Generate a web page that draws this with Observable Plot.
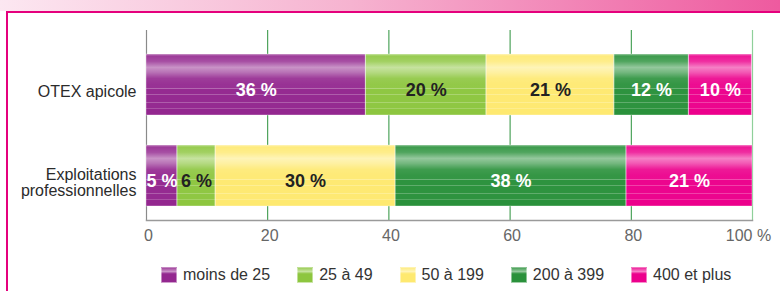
<!DOCTYPE html>
<html><head><meta charset="utf-8">
<script src="https://cdn.jsdelivr.net/npm/d3@7"></script>
<script src="https://cdn.jsdelivr.net/npm/@observablehq/plot@0.6"></script>
<style>
body{margin:0;width:780px;height:291px;overflow:hidden;background:#fff;font-family:"Liberation Sans",Arial,sans-serif;position:relative}
#band{position:absolute;left:0;top:0;width:780px;height:11px;background:linear-gradient(to right,#fce7f1,#f6b3d0 45%,#ee5a9f)}
#frame{position:absolute;left:6px;top:11px;right:0;bottom:0;border-top:2px solid #e5007d;border-left:2px solid #e5007d}
#chart{position:absolute;left:0;top:0}
#legend{position:absolute;left:161px;top:267px;display:flex;gap:27px;font-size:16px;color:#333;line-height:16px}
.item{display:flex;align-items:center;gap:6px}
.sw{width:16px;height:16px;box-sizing:border-box}
</style></head>
<body>
<div id="band"></div>
<div id="frame"></div>
<div id="chart"></div>
<div id="legend"></div>
<script>
const rows = ["OTEX apicole", "Exploitations professionnelles"];
const rowLabels = ["OTEX apicole", "Exploitations\nprofessionnelles"];
const categories = ["moins de 25", "25 à 49", "50 à 199", "200 à 399", "400 et plus"];
const colors = ["#93278f", "#8dc63f", "#fee970", "#2a913b", "#ec008c"];
const otexValues = [36.2, 19.9, 21.1, 12.3, 10.4];
const proValues = [5.1, 6.3, 29.7, 38.1, 20.8];
const otexLabels = ["36 %", "20 %", "21 %", "12 %", "10 %"];
const proLabels = ["5 %", "6 %", "30 %", "38 %", "21 %"];
const xTicks = [0, 20, 40, 60, 80, 100];
const xTickLabels = ["0", "20", "40", "60", "80", "100 %"];
const whiteTextCats = ["moins de 25", "200 à 399", "400 et plus"];

const seriesValues = [otexValues, proValues];
const seriesLabels = [otexLabels, proLabels];
const data = [];
rows.forEach((r, i) => {
  let cum = 0;
  categories.forEach((c, j) => {
    const v = seriesValues[i][j];
    data.push({row: r, cat: c, value: v, label: seriesLabels[i][j], x1: cum, x2: cum + v});
    cum += v;
  });
});

const fmtX = d => xTickLabels[xTicks.indexOf(d)];

const plot = Plot.plot({
  width: 780,
  height: 250,
  marginLeft: 146,
  marginRight: 28,
  marginTop: 30,
  marginBottom: 30,
  style: {background: "transparent", fontFamily: "'Liberation Sans', Arial, sans-serif", fontSize: "16px", color: "#2b2b2b"},
  x: {domain: [0, 100], axis: null, label: null},
  y: {domain: rows, paddingInner: 0.326, paddingOuter: 0.196, align: 0.64, axis: null, label: null},
  color: {domain: categories, range: colors},
  marks: [
    Plot.ruleX([0], {stroke: "#8a8a8a", strokeWidth: 1.2}),
    Plot.ruleX(xTicks.slice(1, -1), {stroke: "#2a913b", strokeWidth: 1}),
    Plot.ruleX([100], {stroke: "#8fd09a", strokeWidth: 1.2}),
    Plot.frame({anchor: "bottom", stroke: "#9a9a9a", strokeWidth: 1.5}),
    Plot.barX(data, {x1: "x1", x2: "x2", y: "row", fill: "cat"}),
    Plot.barX(data, {x1: "x1", x2: "x2", y: "row", fill: "url(#gloss)", stroke: "white", strokeOpacity: 0.35}),
    Plot.text(data.filter(d => whiteTextCats.includes(d.cat)), {x: d => (d.x1 + d.x2) / 2, y: "row", text: "label", fill: "white", fontSize: 18, fontWeight: "bold", dy: 5}),
    Plot.text(data.filter(d => !whiteTextCats.includes(d.cat)), {x: d => (d.x1 + d.x2) / 2, y: "row", text: "label", fill: "#222", fontSize: 18, fontWeight: "bold", dy: 5}),
    Plot.axisX(xTicks.slice(0, -1), {tickSize: 0, tickPadding: 9, tickFormat: fmtX, fill: "#666", fontSize: 16, dx: 2, label: null}),
    Plot.axisX(xTicks.slice(-1), {tickSize: 0, tickPadding: 9, tickFormat: fmtX, fill: "#666", fontSize: 16, dx: -4, label: null}),
    Plot.axisY({tickSize: 0, tickPadding: 10, tickFormat: d => rowLabels[rows.indexOf(d)], fill: "#2b2b2b", fontSize: 16, dy: 7, lineHeight: 1.0, label: null})
  ]
});

const defs = `<linearGradient id="gloss" x1="0" y1="0" x2="0" y2="1">
<stop offset="0" stop-color="#fff" stop-opacity="0.35"/>
<stop offset="0.04" stop-color="#fff" stop-opacity="0.1"/>
<stop offset="0.12" stop-color="#fff" stop-opacity="0.18"/>
<stop offset="0.22" stop-color="#fff" stop-opacity="0.5"/>
<stop offset="0.30" stop-color="#fff" stop-opacity="0.35"/>
<stop offset="0.40" stop-color="#fff" stop-opacity="0.1"/>
<stop offset="0.50" stop-color="#fff" stop-opacity="0.05"/>
<stop offset="0.55" stop-color="#fff" stop-opacity="0.05"/>
<stop offset="0.55" stop-color="#fff" stop-opacity="0.3"/>
<stop offset="0.57" stop-color="#fff" stop-opacity="0.3"/>
<stop offset="0.57" stop-color="#fff" stop-opacity="0.02"/>
<stop offset="0.66" stop-color="#fff" stop-opacity="0.02"/>
<stop offset="0.66" stop-color="#fff" stop-opacity="0.25"/>
<stop offset="0.68" stop-color="#fff" stop-opacity="0.25"/>
<stop offset="0.68" stop-color="#fff" stop-opacity="0.02"/>
<stop offset="0.78" stop-color="#fff" stop-opacity="0.02"/>
<stop offset="0.78" stop-color="#fff" stop-opacity="0.25"/>
<stop offset="0.80" stop-color="#fff" stop-opacity="0.25"/>
<stop offset="0.80" stop-color="#fff" stop-opacity="0.02"/>
<stop offset="0.88" stop-color="#fff" stop-opacity="0.02"/>
<stop offset="0.88" stop-color="#fff" stop-opacity="0.2"/>
<stop offset="0.90" stop-color="#fff" stop-opacity="0.2"/>
<stop offset="0.90" stop-color="#fff" stop-opacity="0"/>
<stop offset="1" stop-color="#fff" stop-opacity="0"/>
</linearGradient>`;
d3.select(plot).insert("defs", ":first-child").html(defs);
document.getElementById("chart").appendChild(plot);

const legend = d3.select("#legend");
categories.forEach((c, i) => {
  const item = legend.append("div").attr("class", "item");
  item.append("div").attr("class", "sw")
    .style("background", `linear-gradient(rgba(255,255,255,0.15), rgba(255,255,255,0.5) 25%, rgba(255,255,255,0) 42%), ${colors[i]}`)
    .style("border", "1px solid rgba(255,255,255,0.45)");
  item.append("span").text(c);
});
</script>
</body></html>
